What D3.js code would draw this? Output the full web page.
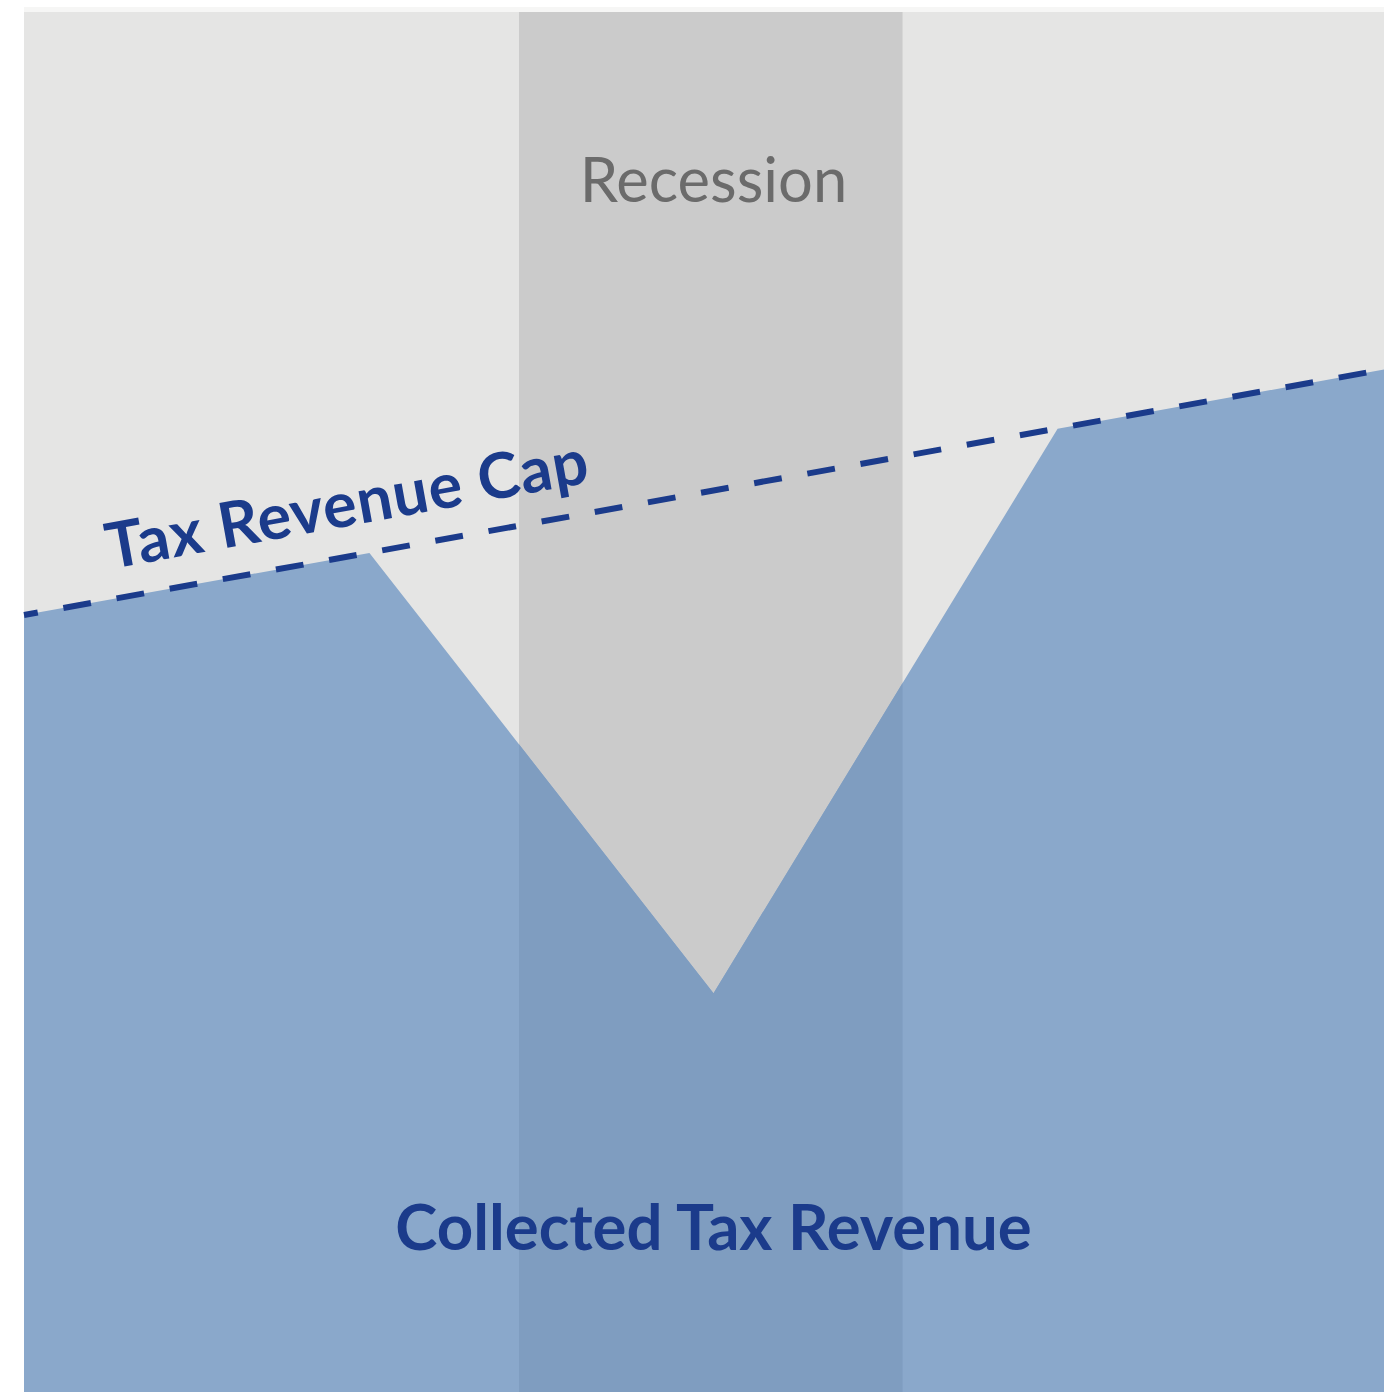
<!DOCTYPE html>
<html><head><meta charset="utf-8">
<script src="https://cdn.jsdelivr.net/npm/d3@7"></script>
<style>html,body{margin:0;padding:0;background:#fff;}svg{display:block;}</style>
</head><body>
<script>
// Data (abstract time 0-100, value 0-100)
const capTimes = [0, 100];
const capValues = [56.3, 74.1];
const revenueTimes = [0, 25.4, 50.7, 76, 100];
const revenueValues = [56.3, 60.8, 28.9, 69.8, 74.1];
const recession = [36.4, 64.6];
const labels = {recession: "Recession", cap: "Tax Revenue Cap", collected: "Collected Tax Revenue"};

(function () {
const W = 1384, H = 1392;
const padL = 24, padT = 12;
const svg = d3.select("body").append("svg").attr("width", W).attr("height", H);

const x = d3.scaleLinear().domain([0, 100]).range([padL, W]);
const y = d3.scaleLinear().domain([0, 100]).range([H, padT]);

svg.append("rect").attr("x", padL).attr("y", 7).attr("width", W - padL).attr("height", 5).attr("fill", "#f6f6f5");
svg.append("rect").attr("x", padL).attr("y", padT).attr("width", W - padL).attr("height", H - padT).attr("fill", "#e5e5e4");

// recession band
svg.append("rect").attr("x", x(recession[0])).attr("y", padT)
  .attr("width", x(recession[1]) - x(recession[0])).attr("height", H - padT).attr("fill", "#cbcbcb");

const rev = revenueTimes.map((t, i) => [t, revenueValues[i]]);
const area = d3.area().x(d => x(d[0])).y0(H).y1(d => y(d[1]));
svg.append("path").datum(rev).attr("d", area).attr("fill", "#8aa8cb");

svg.append("clipPath").attr("id", "bandclip").append("rect")
  .attr("x", x(recession[0])).attr("y", padT)
  .attr("width", x(recession[1]) - x(recession[0])).attr("height", H - padT);
svg.append("path").datum(rev).attr("d", area).attr("fill", "#7f9dc0").attr("clip-path", "url(#bandclip)");

// cap line
const cap = capTimes.map((t, i) => [t, capValues[i]]);
svg.append("path").datum(cap)
  .attr("d", d3.line().x(d => x(d[0])).y(d => y(d[1])))
  .attr("fill", "none").attr("stroke", "#1b3b8b").attr("stroke-width", 6)
  .attr("stroke-dasharray", "28,26").attr("stroke-dashoffset", 14);

// labels
const cx = x(50.7);
svg.append("text").attr("x", cx).attr("y", 202).attr("text-anchor", "middle")
  .attr("font-family", "Lato, 'Open Sans', sans-serif").attr("font-size", 61.5)
  .attr("fill", "#6b6b6b").text(labels.recession);

const ang = Math.atan2(y(capValues[1]) - y(capValues[0]), x(100) - x(0)) * 180 / Math.PI;
svg.append("text").attr("transform", `translate(110,569) rotate(${ang})`)
  .attr("font-family", "Lato, 'Open Sans', sans-serif").attr("font-weight", "bold").attr("font-size", 63)
  .attr("letter-spacing", 0.8)
  .attr("fill", "#1b3b8b").text(labels.cap);

svg.append("text").attr("x", cx).attr("y", 1250).attr("text-anchor", "middle")
  .attr("font-family", "Lato, 'Open Sans', sans-serif").attr("font-weight", "bold").attr("font-size", 63.5)
  .attr("fill", "#1b3b8b").text(labels.collected);
})();
</script>
</body></html>
